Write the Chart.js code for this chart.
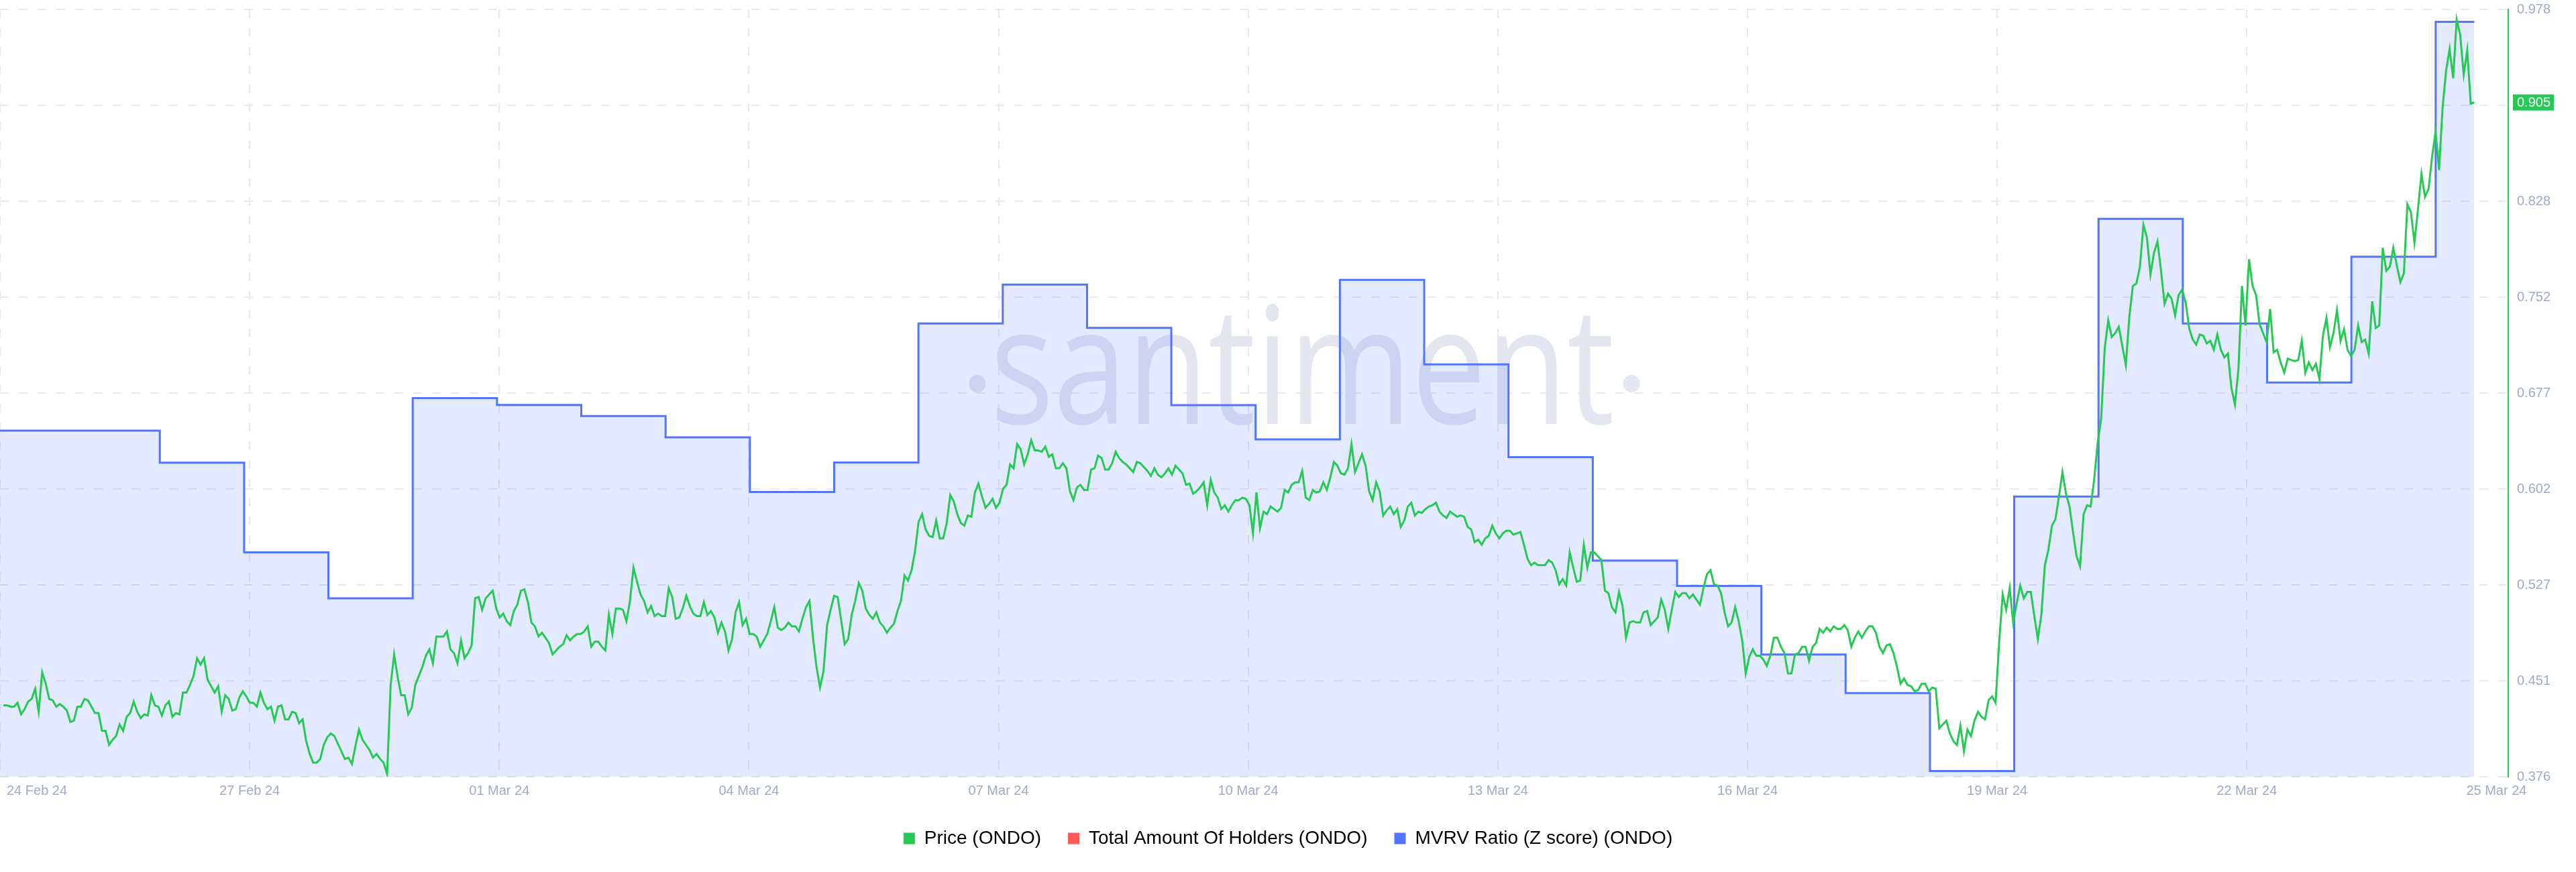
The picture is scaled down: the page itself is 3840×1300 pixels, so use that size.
<!DOCTYPE html>
<html>
<head>
<meta charset="utf-8">
<script src="https://cdn.jsdelivr.net/npm/chart.js@4.4.1/dist/chart.umd.min.js"></script>
<style>
  html, body { margin: 0; padding: 0; background: #fff; }
  #wrap { width: 3840px; height: 1300px; }
</style>
</head>
<body>
<div id="wrap"><canvas id="chart" width="3840" height="1300"></canvas></div>
<script>
// x axis is in hours since 24 Feb 24 00:00
const xTickHours = [0, 72, 144, 216, 288, 360, 432, 504, 576, 648, 720];
const xTickLabels = ["24 Feb 24", "27 Feb 24", "01 Mar 24", "04 Mar 24", "07 Mar 24", "10 Mar 24",
  "13 Mar 24", "16 Mar 24", "19 Mar 24", "22 Mar 24", "25 Mar 24"];
const yTickValues = [0.376, 0.45125, 0.5265, 0.60175, 0.677, 0.75225, 0.8275, 0.90275, 0.978];
const yTickLabels = ["0.376", "0.451", "0.527", "0.602", "0.677", "0.752", "0.828", "0.903", "0.978"];

const seriesNames = ["Price (ONDO)", "Total Amount Of Holders (ONDO)", "MVRV Ratio (Z score) (ONDO)"];
const seriesColors = ["#26C953", "#FF5B5B", "#5275FF"];

// hourly price
const price = [
  0.432, 0.432, 0.431, 0.431, 0.434, 0.425, 0.429, 0.435, 0.437, 0.445, 0.427, 0.458, 0.449, 0.437, 0.436, 0.431,
  0.433, 0.431, 0.428, 0.419, 0.420, 0.431, 0.431, 0.437, 0.436, 0.431, 0.426, 0.426, 0.412, 0.412, 0.401, 0.405,
  0.408, 0.417, 0.412, 0.423, 0.426, 0.435, 0.427, 0.422, 0.425, 0.424, 0.440, 0.432, 0.431, 0.424, 0.432, 0.435,
  0.423, 0.426, 0.425, 0.442, 0.442, 0.448, 0.455, 0.469, 0.464, 0.469, 0.452, 0.447, 0.442, 0.447, 0.427, 0.440,
  0.437, 0.428, 0.429, 0.438, 0.443, 0.439, 0.434, 0.434, 0.431, 0.442, 0.434, 0.429, 0.431, 0.420, 0.431, 0.432,
  0.421, 0.421, 0.427, 0.426, 0.418, 0.421, 0.404, 0.394, 0.387, 0.387, 0.390, 0.401, 0.407, 0.410, 0.408, 0.402,
  0.396, 0.390, 0.391, 0.386, 0.400, 0.413, 0.405, 0.401, 0.397, 0.391, 0.394, 0.390, 0.387, 0.378, 0.448, 0.472,
  0.454, 0.440, 0.440, 0.425, 0.430, 0.448, 0.455, 0.462, 0.471, 0.476, 0.465, 0.486, 0.486, 0.486, 0.490, 0.476,
  0.473, 0.465, 0.483, 0.469, 0.473,
  0.479, 0.516, 0.517, 0.507, 0.516, 0.519, 0.522, 0.508, 0.501, 0.504, 0.498, 0.495, 0.506, 0.511, 0.522, 0.523,
  0.513, 0.497, 0.494, 0.486, 0.489, 0.485, 0.481, 0.472, 0.475, 0.478, 0.480, 0.487, 0.483, 0.486, 0.488, 0.488,
  0.490, 0.494, 0.478, 0.482, 0.482, 0.478, 0.475, 0.503, 0.488, 0.508, 0.508, 0.507, 0.498, 0.514, 0.540, 0.529,
  0.519, 0.514, 0.505, 0.510, 0.502, 0.504, 0.502, 0.502, 0.524, 0.517, 0.500, 0.501, 0.508, 0.518, 0.510, 0.504,
  0.502, 0.502, 0.513, 0.503, 0.506, 0.501, 0.489, 0.497, 0.490, 0.475, 0.484, 0.505, 0.513, 0.495, 0.500, 0.488,
  0.488, 0.486, 0.478, 0.483, 0.488, 0.498, 0.509, 0.493, 0.491, 0.493, 0.497, 0.494, 0.494, 0.490, 0.500, 0.509,
  0.514, 0.485, 0.462, 0.446, 0.459, 0.495, 0.507, 0.518, 0.517, 0.499, 0.480, 0.484, 0.503, 0.514, 0.528, 0.522,
  0.508, 0.503, 0.500, 0.505, 0.497, 0.494, 0.489, 0.493, 0.496, 0.506, 0.514, 0.534, 0.530, 0.538, 0.553, 0.576,
  0.582, 0.570, 0.565, 0.564, 0.577, 0.563,
  0.563, 0.575, 0.597, 0.592, 0.582, 0.575, 0.573, 0.581, 0.580, 0.599, 0.606, 0.596, 0.587, 0.590, 0.594, 0.587,
  0.591, 0.602, 0.605, 0.621, 0.618, 0.637, 0.633, 0.621, 0.629, 0.640, 0.632, 0.632, 0.631, 0.635, 0.627, 0.629,
  0.618, 0.618, 0.622, 0.618, 0.600, 0.593, 0.603, 0.605, 0.601, 0.601, 0.617, 0.618, 0.628, 0.626, 0.617, 0.617,
  0.622, 0.631, 0.626, 0.623, 0.621, 0.618, 0.615, 0.623, 0.622, 0.619, 0.616, 0.612, 0.618, 0.613, 0.611, 0.614,
  0.618, 0.613, 0.620, 0.617, 0.614, 0.605, 0.606, 0.598, 0.600, 0.603, 0.607, 0.589, 0.609, 0.599, 0.595, 0.586,
  0.589, 0.584, 0.589, 0.593, 0.593, 0.595, 0.594, 0.589, 0.567, 0.599, 0.571, 0.584, 0.582, 0.588, 0.586, 0.584,
  0.587, 0.601, 0.599, 0.605, 0.607, 0.607, 0.616, 0.595, 0.593, 0.601, 0.599, 0.600, 0.607, 0.601, 0.611, 0.623,
  0.620, 0.614, 0.613, 0.618, 0.637, 0.615, 0.622, 0.629, 0.620, 0.600, 0.593, 0.607, 0.600, 0.581, 0.585, 0.588,
  0.582, 0.586, 0.572, 0.577, 0.588,
  0.591, 0.581, 0.584, 0.583, 0.586, 0.588, 0.589, 0.591, 0.584, 0.581, 0.579, 0.584, 0.582, 0.580, 0.581, 0.580,
  0.572, 0.570, 0.560, 0.562, 0.558, 0.563, 0.565, 0.573, 0.567, 0.563, 0.567, 0.569, 0.569, 0.566, 0.567, 0.568,
  0.558, 0.547, 0.542, 0.544, 0.542, 0.542, 0.542, 0.546, 0.544, 0.538, 0.527, 0.531, 0.526, 0.552, 0.540, 0.529,
  0.530, 0.558, 0.540, 0.552, 0.552, 0.549, 0.546, 0.522, 0.520, 0.509, 0.505, 0.521, 0.510, 0.485, 0.497, 0.498,
  0.497, 0.497, 0.505, 0.506, 0.495, 0.498, 0.501, 0.515, 0.507, 0.492, 0.507, 0.521, 0.517, 0.520, 0.520, 0.516,
  0.519, 0.515, 0.511, 0.524, 0.535, 0.538, 0.527, 0.526, 0.520, 0.505, 0.494, 0.497, 0.509, 0.498, 0.483, 0.457,
  0.470, 0.476, 0.471, 0.471, 0.468, 0.463, 0.471, 0.485, 0.485, 0.478, 0.473, 0.457, 0.457, 0.472, 0.473, 0.478,
  0.478, 0.467, 0.478, 0.481, 0.492, 0.489, 0.493, 0.490, 0.494, 0.492, 0.492, 0.495, 0.491, 0.478, 0.485, 0.490,
  0.485, 0.490, 0.494, 0.494, 0.489, 0.478,
  0.473, 0.479, 0.480, 0.473, 0.462, 0.449, 0.453, 0.448, 0.447, 0.443, 0.444, 0.449, 0.449, 0.443, 0.446, 0.445,
  0.414, 0.417, 0.420, 0.410, 0.404, 0.401, 0.416, 0.396, 0.413, 0.408, 0.420, 0.427, 0.423, 0.421, 0.436, 0.439,
  0.434, 0.481, 0.519, 0.507, 0.524, 0.497, 0.512, 0.526, 0.516, 0.521, 0.521, 0.502, 0.484, 0.503, 0.542, 0.554,
  0.573, 0.578, 0.596, 0.615, 0.598, 0.588, 0.568, 0.549, 0.541, 0.582, 0.589, 0.588, 0.609, 0.638, 0.657, 0.712,
  0.734, 0.721, 0.724, 0.729, 0.714, 0.699, 0.737, 0.761, 0.763, 0.776, 0.809, 0.799, 0.770, 0.787, 0.796, 0.773,
  0.747, 0.755, 0.751, 0.738, 0.754, 0.758, 0.748, 0.728, 0.719, 0.715, 0.723, 0.722, 0.716, 0.718, 0.711, 0.723,
  0.711, 0.705, 0.708, 0.681, 0.668, 0.696, 0.761, 0.730, 0.782, 0.761, 0.754, 0.731, 0.724, 0.717, 0.743, 0.709,
  0.711, 0.701, 0.693, 0.704, 0.703, 0.702, 0.703, 0.718, 0.693, 0.701, 0.695, 0.700, 0.688, 0.722, 0.736, 0.713,
  0.724, 0.742, 0.718, 0.727, 0.711,
  0.706, 0.711, 0.730, 0.717, 0.719, 0.708, 0.749, 0.728, 0.730, 0.791, 0.773, 0.776, 0.791, 0.777, 0.764, 0.771,
  0.825, 0.819, 0.795, 0.821, 0.849, 0.831, 0.837, 0.862, 0.882, 0.852, 0.901, 0.930, 0.947, 0.924, 0.970, 0.958,
  0.927, 0.946, 0.904, 0.905
];

// daily MVRV values (one per daily step)
const mvrv = [0.6475, 0.6224, 0.552, 0.516, 0.673, 0.6677, 0.659, 0.6423, 0.5994, 0.6225, 0.7316, 0.7621,
  0.7282, 0.6675, 0.6407, 0.7658, 0.6995, 0.6267, 0.5456, 0.5257, 0.4719, 0.4416, 0.3805, 0.5958, 0.8137,
  0.7316, 0.6853, 0.784, 0.9682];

// holders series has no visible values in the picture
const holders = [];

const priceFirstHour = 1;
const priceLastHour = 713.6;
const mvrvFirstChange = 46.1;
const mvrvDayHours = 24.31;
const xMaxHours = 723.4;

const gridColor = "#e6e9f2";
const tickColor = "#9faac4";
const fontFamily = '"Liberation Sans", Arial, sans-serif';
Chart.defaults.font.family = fontFamily;

const pricePoints = price.map((v, i) => ({
  x: priceFirstHour + i * (priceLastHour - priceFirstHour) / (price.length - 1),
  y: v,
}));
const mvrvPoints = mvrv.map((v, i) => ({
  x: i === 0 ? 0 : mvrvFirstChange + (i - 1) * mvrvDayHours,
  y: v,
}));
mvrvPoints.push({ x: priceLastHour, y: mvrv[mvrv.length - 1] });

const watermark = {
  id: "watermark",
  beforeDatasetsDraw: (chart) => {
    const ctx = chart.ctx;
    ctx.save();
    ctx.fillStyle = "#e3e6ef";
    ctx.font = '243px "Open Sans", "Noto Sans", sans-serif';
    ctx.textBaseline = "alphabetic";
    ctx.textAlign = "left";
    const m = ctx.measureText("santiment");
    const ink = m.actualBoundingBoxLeft + m.actualBoundingBoxRight;
    const sx = 917 / ink;
    ctx.translate(1486 + m.actualBoundingBoxLeft * sx, 632);
    ctx.scale(sx, 1);
    ctx.fillText("santiment", 0, 0);
    ctx.restore();
    ctx.save();
    ctx.fillStyle = "#e3e6ef";
    [1457, 2432].forEach((cx) => {
      ctx.beginPath();
      ctx.ellipse(cx, 572, 12.5, 13, 0, 0, Math.PI * 2);
      ctx.fill();
    });
    ctx.restore();
  },
};

const overlay = {
  id: "overlay",
  afterDraw: (chart) => {
    const ctx = chart.ctx;
    const area = chart.chartArea;
    const xs = chart.scales.x;
    const ys = chart.scales.y;
    ctx.save();
    ctx.font = "20px " + fontFamily;
    ctx.fillStyle = tickColor;
    ctx.textBaseline = "middle";
    ctx.textAlign = "left";
    xTickHours.forEach((h, i) => {
      const px = xs.getPixelForValue(h);
      const w = ctx.measureText(xTickLabels[i]).width;
      let left = px - w / 2;
      if (left < area.left + 10) left = area.left + 10;
      ctx.fillText(xTickLabels[i], left, area.bottom + 21);
    });

    // last value badge
    const last = price[price.length - 1];
    const py = ys.getPixelForValue(last);
    ctx.fillStyle = seriesColors[0];
    ctx.fillRect(area.right + 7, py - 12, 61, 24);
    ctx.fillStyle = "#ffffff";
    ctx.fillText(last.toFixed(3), area.right + 13, py + 1);
    ctx.restore();
  },
};

new Chart(document.getElementById("chart"), {
  type: "line",
  data: {
    datasets: [
      {
        label: seriesNames[0],
        data: pricePoints,
        borderColor: seriesColors[0],
        backgroundColor: seriesColors[0],
        borderWidth: 3,
        pointRadius: 0,
        tension: 0,
        fill: false,
        yAxisID: "y",
      },
      {
        label: seriesNames[1],
        data: holders,
        borderColor: seriesColors[1],
        backgroundColor: seriesColors[1],
        borderWidth: 2,
        pointRadius: 0,
        fill: false,
        yAxisID: "yHolders",
      },
      {
        label: seriesNames[2],
        data: mvrvPoints,
        borderColor: seriesColors[2],
        backgroundColor: "rgba(82,120,250,0.16)",
        borderWidth: 3,
        pointRadius: 0,
        stepped: true,
        fill: "start",
        yAxisID: "yMvrv",
      },
    ],
  },
  options: {
    responsive: false,
    animation: false,
    layout: { padding: { top: 14, left: 0, right: 0, bottom: 26 } },
    scales: {
      x: {
        type: "linear",
        min: 0,
        max: xMaxHours,
        afterBuildTicks: (s) => {
          s.ticks = xTickHours.map((v) => ({ value: v }));
        },
        afterFit: (s) => {
          s.height = 38;
          s.paddingLeft = 0;
          s.paddingRight = 0;
        },
        ticks: { display: false },
        grid: {
          color: (c) => (c.tick && c.tick.value === xTickHours[xTickHours.length - 1] ? "rgba(0,0,0,0)" : gridColor),
          lineWidth: 2,
          drawTicks: false,
        },
        border: { display: false, dash: [13, 15] },
      },
      y: {
        position: "right",
        min: yTickValues[0],
        max: yTickValues[yTickValues.length - 1],
        afterBuildTicks: (s) => {
          s.ticks = yTickValues.map((v) => ({ value: v }));
        },
        afterFit: (s) => {
          s.width = 101;
          s.paddingTop = 0;
          s.paddingBottom = 0;
        },
        ticks: {
          callback: (value, index) => yTickLabels[index],
          color: tickColor,
          font: { size: 20 },
          padding: 13,
        },
        grid: { color: gridColor, lineWidth: 2, drawTicks: false },
        border: { display: true, color: seriesColors[0], width: 2, dash: [13, 15] },
      },
      yMvrv: {
        display: false,
        min: yTickValues[0],
        max: yTickValues[yTickValues.length - 1],
      },
      yHolders: { display: false },
    },
    plugins: {
      legend: {
        position: "bottom",
        labels: {
          boxWidth: 17,
          boxHeight: 17,
          padding: 40,
          color: "#181b2b",
          font: { size: 28 },
          generateLabels: (chart) =>
            chart.data.datasets.map((d, i) => ({
              text: d.label,
              fillStyle: seriesColors[i],
              strokeStyle: seriesColors[i],
              lineWidth: 0,
              hidden: false,
              datasetIndex: i,
            })),
        },
      },
      tooltip: { enabled: false },
    },
  },
  plugins: [watermark, overlay],
});
</script>
</body>
</html>
